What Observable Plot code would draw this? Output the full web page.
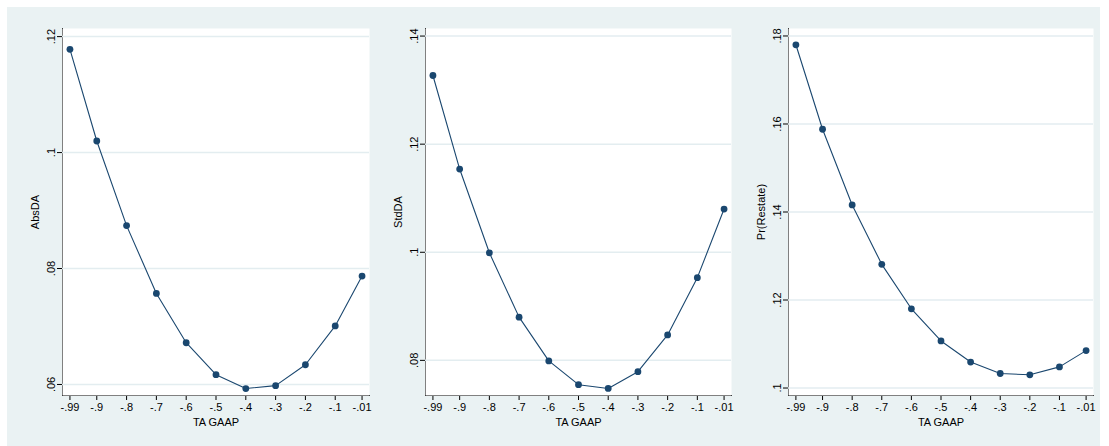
<!DOCTYPE html>
<html><head><meta charset="utf-8">
<script src="https://cdn.jsdelivr.net/npm/d3@7"></script>
<script src="https://cdn.jsdelivr.net/npm/@observablehq/plot@0.6"></script>
<style>
body{margin:0;background:#fff;width:1109px;height:446px;overflow:hidden;position:relative;font-family:"Liberation Sans",Arial,sans-serif}
#bg{position:absolute;left:7px;top:7px;width:1093px;height:439px;background:#eaf2f3}
.panel{position:absolute;top:0}
#title{position:absolute;left:0;top:0;width:1109px;height:7px;overflow:hidden}
</style></head><body>
<div id="bg"></div>
<div id="title"><svg width="1109" height="7"><text x="40" y="4" font-family="Liberation Serif, Times New Roman, serif" font-weight="bold" font-size="24" textLength="780" lengthAdjust="spacing">seasonally adjusted DA, and the probability of restatement.</text></svg></div>
<div id="p1" class="panel" style="left:0px"></div>
<div id="p2" class="panel" style="left:380px"></div>
<div id="p3" class="panel" style="left:740px"></div>
<script>
const taGaap = [-0.99, -0.9, -0.8, -0.7, -0.6, -0.5, -0.4, -0.3, -0.2, -0.1, -0.01];
const absDA = [0.1178, 0.1020, 0.0874, 0.0757, 0.0672, 0.0617, 0.0593, 0.0598, 0.0634, 0.0701, 0.0787];
const stdDA = [0.1327, 0.1154, 0.0999, 0.0880, 0.0799, 0.0755, 0.0748, 0.0779, 0.0847, 0.0953, 0.1080];
const prRestate = [0.1780, 0.1588, 0.1416, 0.1281, 0.1180, 0.1107, 0.1059, 0.1033, 0.1030, 0.1048, 0.1085];
const absDATicks = [0.06, 0.08, 0.10, 0.12];
const stdDATicks = [0.08, 0.10, 0.12, 0.14];
const prTicks = [0.10, 0.12, 0.14, 0.16, 0.18];
const xLabel = "TA GAAP";

const fmt = d => String(+(+d).toFixed(3)).replace(/^(-?)0\./, "$1.");

function panel(id, values, yLabel, yTicks, yDomain, width, ml) {
  const data = taGaap.map((x, i) => ({x, y: values[i]}));
  const chart = Plot.plot({
    width, height: 446, marginLeft: ml, marginRight: 1, marginTop: 28, marginBottom: 51,
    style: {background: "transparent", fontFamily: "Liberation Sans, Arial, sans-serif", fontSize: "11px", color: "#000", overflow: "visible"},
    x: {domain: [-1.015, 0.015], ticks: taGaap, tickFormat: fmt, tickSize: 5, tickPadding: 3, line: true,
        label: xLabel, labelAnchor: "center", labelOffset: 30, labelArrow: "none"},
    y: {domain: yDomain, ticks: yTicks, tickFormat: fmt, tickSize: 5, tickPadding: 3, tickRotate: -90, line: true,
        label: yLabel, labelAnchor: "center", labelOffset: 31, labelArrow: "none"},
    marks: [
      Plot.frame({fill: "white", stroke: null}),
      Plot.gridY(yTicks, {stroke: "#e3edf0", strokeOpacity: 1, strokeWidth: 1.5}),
      Plot.line(data, {x: "x", y: "y", stroke: "#1a476f", strokeWidth: 1.1}),
      Plot.dot(data, {x: "x", y: "y", r: 3.4, fill: "#1a476f", stroke: null})
    ]
  });
  document.getElementById(id).appendChild(chart);
}

panel("p1", absDA, "AbsDA", absDATicks, [0.0581, 0.1214], 370, 62);
panel("p2", stdDA, "StdDA", stdDATicks, [0.0735, 0.1414], 352, 45);
panel("p3", prRestate, "Pr(Restate)", prTicks, [0.0983, 0.1817], 354, 48);
</script>
</body></html>
